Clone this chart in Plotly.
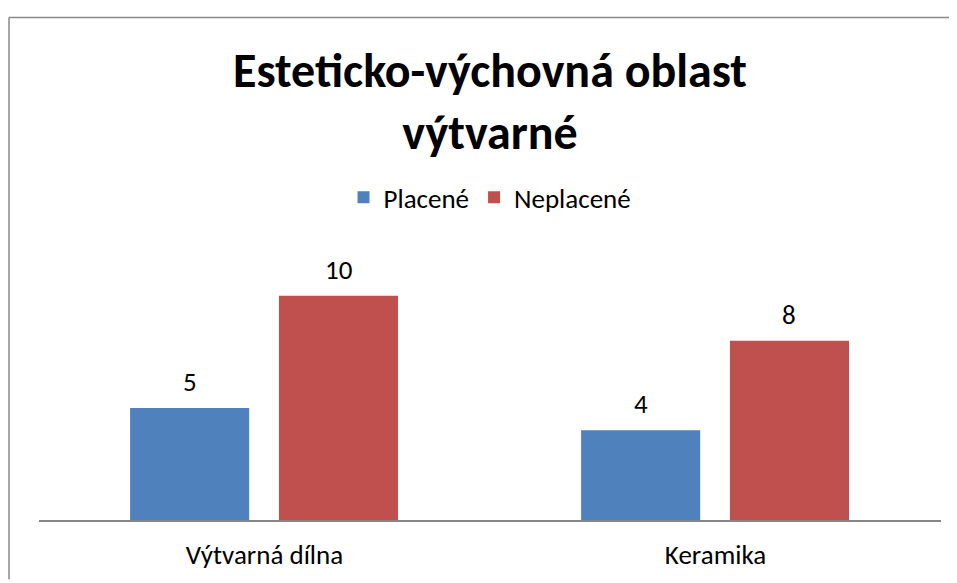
import plotly.graph_objects as go

categories = ["Výtvarná dílna", "Keramika"]
placene = [5, 4]
neplacene = [10, 8]
series_names = ["Placené", "Neplacené"]
title_text = "Esteticko-výchovná oblast<br>výtvarné"

FONT = "Carlito, Calibri, Lato, sans-serif"
colors = ["#4F81BD", "#C0504D"]
bar_w = 0.264
offsets = [-0.298, 0.032]

# page has 8px body margin; figure coordinates are page - 8
W, H = 949, 575
L, R, T, B = 31, 16, 243, 60
PH = H - T - B
PW = W - L - R

xs = list(range(len(categories)))
fig = go.Figure()
for name, vals, col, off in zip(series_names, [placene, neplacene], colors, offsets):
    fig.add_trace(go.Bar(
        x=xs, y=vals, name=name, width=bar_w, offset=off,
        marker=dict(color=col, line=dict(width=0)),
    ))
    for xi, v in zip(xs, vals):
        fig.add_annotation(x=xi + off + bar_w / 2, y=v, text=str(v), showarrow=False,
                           xref="x", yref="y", yanchor="bottom", yshift=8,
                           font=dict(family=FONT, size=27, color="#000000"))

fig.update_layout(
    width=W, height=H,
    margin=dict(l=L, r=R, t=T, b=B),
    paper_bgcolor="white", plot_bgcolor="white",
    barmode="overlay",
    font=dict(family=FONT, size=27, color="#000000"),
    title=dict(text="<b>" + title_text + "</b>", x=0.5, xref="paper", xanchor="center",
               y=1 - 79 / H, yref="container", yanchor="top",
               font=dict(family=FONT, size=48, color="#000000")),
    legend=dict(orientation="h", x=0.5, xanchor="center", y=(H - B - 189) / PH,
                yanchor="middle", yref="paper", font=dict(family=FONT, size=27, color="#000000"),
                itemwidth=30, traceorder="normal"),
    showlegend=True,
    xaxis=dict(range=[-0.5, len(categories) - 0.5], tickvals=xs, ticktext=categories,
               showline=True, linecolor="#868686", linewidth=1.5, ticks="",
               ticklabelstandoff=10, showgrid=False, zeroline=False,
               tickfont=dict(family=FONT, size=27, color="#000000")),
    yaxis=dict(range=[0, 12], visible=False, showgrid=False, zeroline=False),
)

bx0 = (1 - L) / PW
bx1 = (W - L) / PW
by1 = (H - B - 7) / PH
by0 = -B / PH
border = dict(color="#898989", width=1.5)
fig.add_shape(type="line", xref="paper", yref="paper", x0=bx0, x1=bx1, y0=by1, y1=by1,
              line=border, layer="below")
fig.add_shape(type="line", xref="paper", yref="paper", x0=bx0, x1=bx0, y0=by0, y1=by1,
              line=border, layer="below")

fig.write_html("out.html")
